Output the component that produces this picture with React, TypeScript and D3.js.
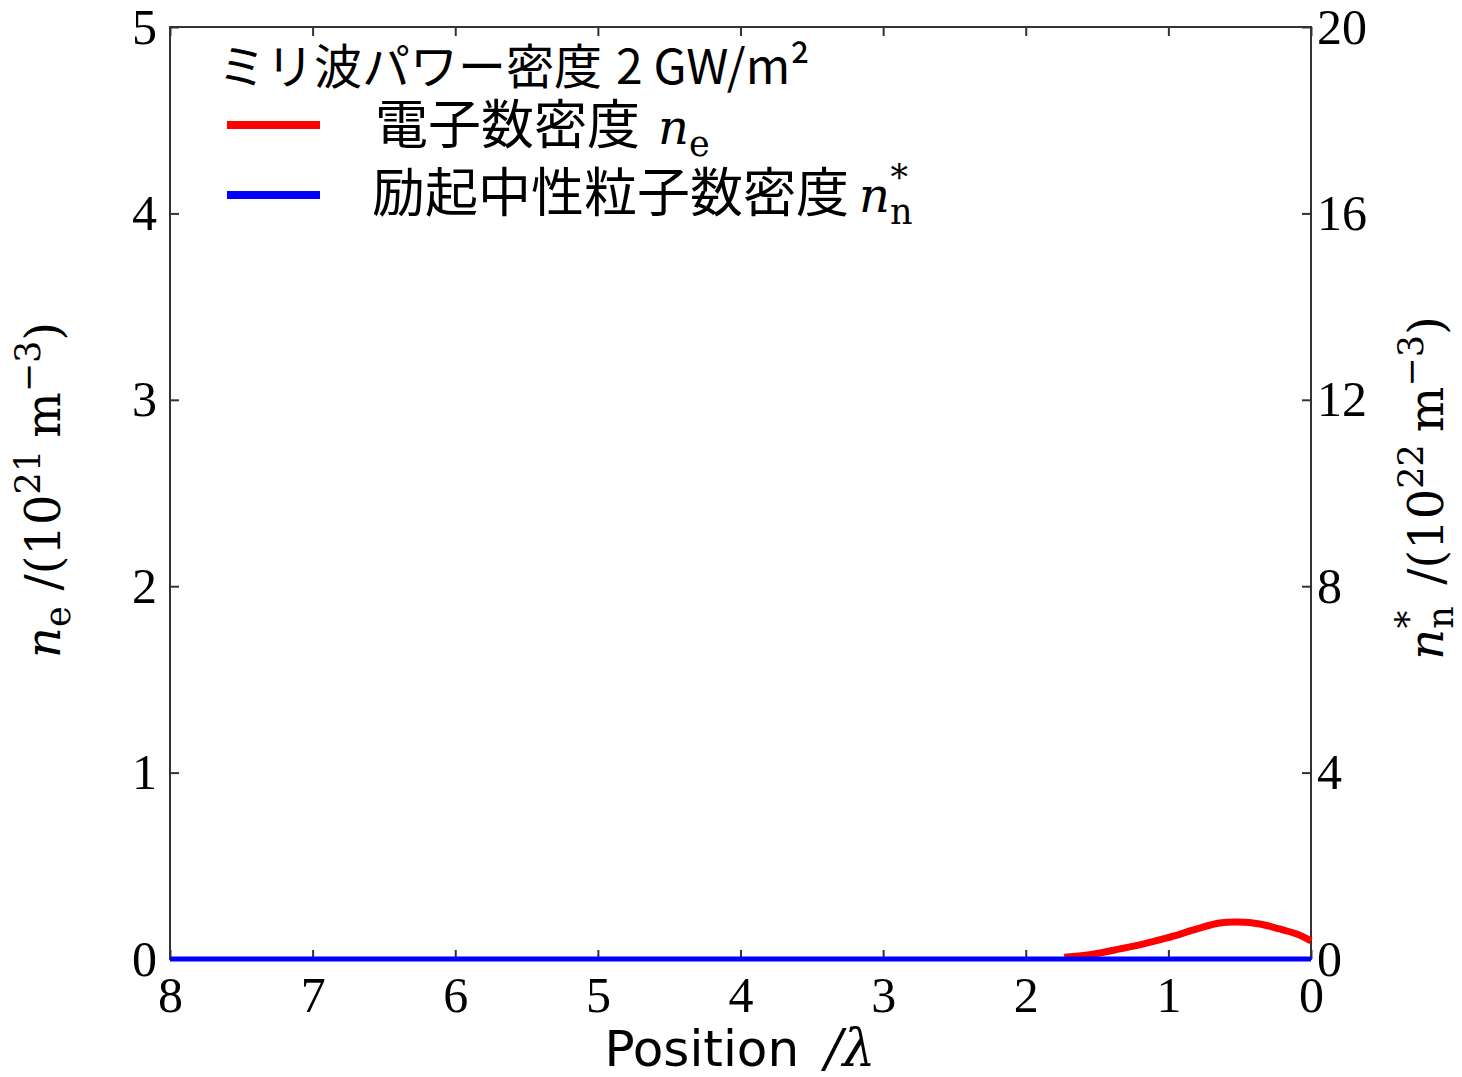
import React, { useEffect, useRef } from 'react';
import * as d3 from 'd3';

const width = 1462;
const height = 1077;
const margin = { left: 170, right: 151, top: 27, bottom: 118 };

// electron density n_e (10^21 m^-3) vs position (λ)
const nePosition = [1.73, 1.53, 1.34, 1.18, 1.01, 0.87, 0.78, 0.64, 0.51, 0.36, 0.22, 0.10, 0.0];
const neValue = [0.01, 0.026, 0.054, 0.08, 0.113, 0.145, 0.166, 0.193, 0.198, 0.188, 0.161, 0.134, 0.097];

// excited neutral density n_n* (10^22 m^-3)
const nnPosition = [8, 0];
const nnValue = [0, 0];

const xTicks = [8, 7, 6, 5, 4, 3, 2, 1, 0];
const leftTicks = [0, 1, 2, 3, 4, 5];
const rightTicks = [0, 4, 8, 12, 16, 20];

const tickFont = '"Liberation Serif", serif';
const cjkFont = '"Noto Sans CJK JP", sans-serif';
const mathFont = '"DejaVu Serif", serif';
const axisColor = '#333';

export default function App() {
    const ref = useRef<SVGGElement>(null);

    useEffect(() => {
        const root = d3.select(ref.current);
        root.selectAll('*').remove();
        const plotW = width - margin.left - margin.right;
        const plotH = height - margin.top - margin.bottom;

        const x = d3.scaleLinear().domain([8, 0]).range([0, plotW]);
        const yL = d3.scaleLinear().domain([0, 5]).range([plotH, 0]);
        const yR = d3.scaleLinear().domain([0, 20]).range([plotH, 0]);

        const g = root.append('g').attr('transform', `translate(${margin.left},${margin.top})`);

        g.append('rect')
            .attr('width', plotW)
            .attr('height', plotH)
            .attr('fill', 'none')
            .attr('stroke', axisColor)
            .attr('stroke-width', 2);

        const styleAxis = (sel: any) => {
            sel.select('.domain').remove();
            sel.selectAll('line').attr('stroke', axisColor).attr('stroke-width', 2);
            sel.selectAll('text')
                .attr('font-family', tickFont)
                .attr('font-size', 50)
                .attr('fill', '#000');
        };

        g.append('g')
            .attr('transform', `translate(0,${plotH})`)
            .call(d3.axisBottom(x).tickValues(xTicks).tickFormat(d3.format('d')).tickSizeInner(-9).tickSizeOuter(0).tickPadding(17))
            .call(styleAxis);
        g.append('g')
            .call(d3.axisTop(x).tickValues(xTicks).tickFormat(() => '').tickSizeInner(-9).tickSizeOuter(0))
            .call(styleAxis);
        g.append('g')
            .call(d3.axisLeft(yL).tickValues(leftTicks).tickFormat(d3.format('d')).tickSizeInner(-9).tickSizeOuter(0).tickPadding(13))
            .call(styleAxis);
        g.append('g')
            .attr('transform', `translate(${plotW},0)`)
            .call(d3.axisRight(yR).tickValues(rightTicks).tickFormat(d3.format('d')).tickSizeInner(-9).tickSizeOuter(0).tickPadding(6))
            .call(styleAxis);

        const neLine = d3.line<number>()
            .x((d, i) => x(nePosition[i]))
            .y(d => yL(d))
            .curve(d3.curveCatmullRom);
        g.append('path')
            .datum(neValue)
            .attr('d', neLine)
            .attr('fill', 'none')
            .attr('stroke', '#ff0000')
            .attr('stroke-width', 7);

        const nnLine = d3.line<number>()
            .x((d, i) => x(nnPosition[i]))
            .y(d => yR(d));
        g.append('path')
            .datum(nnValue)
            .attr('d', nnLine)
            .attr('fill', 'none')
            .attr('stroke', '#0000ff')
            .attr('stroke-width', 5);
    }, []);

    return (
        <svg width={width} height={height}
             style={{ position: 'absolute', left: 0, top: 0, background: '#fff' }}>
            <g ref={ref} />

            {/* legend */}
            <text x={218} y={84} fontFamily={cjkFont} fontSize={48}>
                ミリ波パワー密度<tspan dx={14}>2 GW/m²</tspan>
            </text>
            <line x1={227} x2={320} y1={125} y2={125} stroke="#ff0000" strokeWidth={8} />
            <line x1={227} x2={320} y1={195} y2={195} stroke="#0000ff" strokeWidth={8} />
            <text x={375} y={144} fontFamily={cjkFont} fontSize={53}>
                電子数密度
                <tspan dx={18} fontFamily={mathFont} fontStyle="italic" fontSize={48}>n</tspan>
                <tspan dy={12} fontFamily={mathFont} fontSize={35}>e</tspan>
            </text>
            <text x={372} y={212} fontFamily={cjkFont} fontSize={53}>
                励起中性粒子数密度
                <tspan dx={10} fontFamily={mathFont} fontStyle="italic" fontSize={48}>n</tspan>
                <tspan dy={12} fontFamily={mathFont} fontSize={35}>n</tspan>
                <tspan dx={-22} dy={-34} fontFamily={mathFont} fontSize={35}>*</tspan>
            </text>

            {/* left axis title */}
            <text transform="translate(60,490) rotate(-90)" textAnchor="middle" fontFamily={mathFont} fontSize={48}>
                <tspan fontStyle="italic">n</tspan>
                <tspan dy={10} fontSize={35}>e</tspan>
                <tspan dy={-10} dx={16}>/(10</tspan>
                <tspan dy={-20} fontSize={35}>21</tspan>
                <tspan dy={20} dx={12}>m</tspan>
                <tspan dy={-20} fontSize={35}>−3</tspan>
                <tspan dy={20}>)</tspan>
            </text>

            {/* right axis title */}
            <text transform="translate(1443,488) rotate(-90)" textAnchor="middle" fontFamily={mathFont} fontSize={48}>
                <tspan fontStyle="italic">n</tspan>
                <tspan dy={10} fontSize={35}>n</tspan>
                <tspan dx={-22} dy={-32} fontSize={35}>*</tspan>
                <tspan dy={22} dx={26}>/(10</tspan>
                <tspan dy={-20} fontSize={35}>22</tspan>
                <tspan dy={20} dx={12}>m</tspan>
                <tspan dy={-20} fontSize={35}>−3</tspan>
                <tspan dy={20}>)</tspan>
            </text>

            {/* x axis title */}
            <text x={740} y={1066} textAnchor="middle" fontFamily='"DejaVu Sans", sans-serif' fontSize={50}>
                Position
                <tspan dx={26} fontFamily={mathFont} fontStyle="italic" fontSize={52}>/λ</tspan>
            </text>
        </svg>
    );
}
